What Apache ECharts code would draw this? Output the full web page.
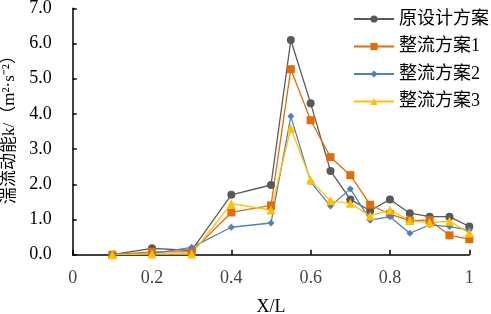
<!DOCTYPE html>
<html><head><meta charset="utf-8">
<script src="https://cdn.jsdelivr.net/npm/echarts@6/dist/echarts.min.js"></script>
<style>html,body{margin:0;padding:0;background:#fff}#c{width:491px;height:314px}</style>
</head><body><div id="c"></div>
<script>
var xPositions = [0.1, 0.2, 0.3, 0.4, 0.5, 0.55, 0.6, 0.65, 0.7, 0.75, 0.8, 0.85, 0.9, 0.95, 1.0];
var seriesNames = ['原设计方案', '整流方案1', '整流方案2', '整流方案3'];
var original = [0, 0.18, 0.12, 1.70, 1.98, 6.10, 4.30, 2.38, 1.57, 1.25, 1.57, 1.18, 1.08, 1.08, 0.80];
var plan1 = [0, 0.08, 0.08, 1.20, 1.40, 5.27, 3.82, 2.77, 2.26, 1.42, 1.15, 0.97, 0.98, 0.55, 0.44];
var plan2 = [0, 0.03, 0.21, 0.78, 0.90, 3.93, 2.07, 1.38, 1.87, 0.98, 1.08, 0.61, 0.85, 0.80, 0.70];
var plan3 = [0, 0.02, 0.02, 1.45, 1.27, 3.59, 2.12, 1.53, 1.46, 1.10, 1.27, 0.97, 0.91, 0.95, 0.62];
var xTicks = [0, 0.2, 0.4, 0.6, 0.8, 1];
var yTicks = [0, 1, 2, 3, 4, 5, 6, 7];

var FONT = '"Liberation Serif", "Noto Sans CJK SC", serif';
function pairs(v){ return xPositions.map(function(x,i){ return [x, v[i]]; }); }
var styles = [
  {color:'#595959', symbol:'circle', size:8},
  {color:'#E36C0A', symbol:'rect', size:8},
  {color:'#4F81BD', symbol:'diamond', size:7},
  {color:'#FFC000', symbol:'triangle', size:9}
];
var vals = [original, plan1, plan2, plan3];
var chart = echarts.init(document.getElementById('c'));
chart.setOption({
  animation:false,
  backgroundColor:'#fff',
  textStyle:{fontFamily:FONT},
  legend:{
    orient:'vertical', left:348, top:5, itemWidth:40, itemHeight:9, itemGap:9.5,
    textStyle:{fontFamily:FONT, fontSize:18, color:'#000'},
    data:seriesNames
  },
  grid:{left:72.7, right:21.7, top:8.3, bottom:59.3, containLabel:false, outerBoundsMode:'none'},
  xAxis:{
    type:'value', min:0, max:1, interval:0.2,
    name:'X/L', nameLocation:'middle', nameGap:44,
    nameTextStyle:{fontFamily:FONT, fontSize:18, color:'#000'},
    axisLine:{lineStyle:{color:'#000', width:1.5}},
    axisTick:{inside:true, length:5, lineStyle:{color:'#000', width:1.5}},
    axisLabel:{fontFamily:FONT, fontSize:18, color:'#444', margin:15,
      formatter:function(v){ return String(+v.toFixed(1)); }},
    splitLine:{show:false}
  },
  yAxis:{
    type:'value', min:0, max:7, interval:1,
    name:'湍流动能k/（m²·s⁻²）', nameLocation:'middle', nameGap:55, nameRotate:90,
    nameTextStyle:{fontFamily:FONT, fontSize:17, color:'#000', padding:[0,0,0,12]},
    axisLine:{show:true, lineStyle:{color:'#000', width:1.5}},
    axisTick:{show:true, inside:true, length:4, lineStyle:{color:'#000', width:1.5}},
    axisLabel:{fontFamily:FONT, fontSize:18, color:'#000', margin:21,
      formatter:function(v){ return v.toFixed(1); }},
    splitLine:{show:false}
  },
  series: seriesNames.map(function(n,i){
    return {
      name:n, type:'line', data:pairs(vals[i]),
      symbol:styles[i].symbol, symbolSize:styles[i].size, showAllSymbol:true,
      lineStyle:{color:styles[i].color, width:1.3},
      itemStyle:{color:styles[i].color}
    };
  })
});
</script></body></html>
